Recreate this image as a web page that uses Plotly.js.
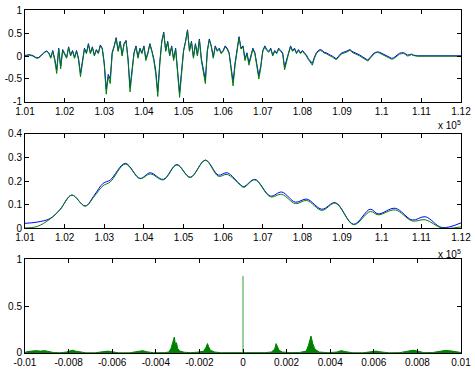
<!DOCTYPE html>
<html>
<head>
<meta charset="utf-8">
<script src="https://cdn.plot.ly/plotly-3.0.1.min.js"></script>
<style>html,body{margin:0;padding:0;background:#fff;}#chart{width:475px;height:371px;}</style>
</head>
<body>
<div id="chart"></div>
<script>
// ---- Top panel: time signal (x in units of 10^5), sampled every 0.0005 from 1.01 ----
const sigStart = 1.01;
const sigStep = 0.0005;
const sigGreen = [0,0.01,0.02,0.01,0,-0.03,-0.05,-0.04,0,0.05,0.08,0.1,0.06,-0.05,0.1,-0.1,-0.38,0.15,-0.28,0.12,
0.05,-0.05,0.18,0,0.1,-0.05,0.1,-0.08,-0.45,-0.1,0.15,0.05,0.25,0.05,0.18,0,0.12,0.05,0.22,0.15,
-0.2,-0.83,-0.45,-0.6,0.05,0.2,0.38,0.1,0.3,0,0.25,0.32,-0.1,-0.78,-0.4,0.05,0.2,-0.05,0.15,0.05,
0.2,-0.1,0.05,0.25,0.1,-0.1,-0.4,-0.88,-0.2,0.3,0.5,0.1,0.3,0,0.2,-0.1,0.15,-0.3,-0.9,-0.4,
0.1,0.3,0.55,0.1,0.3,-0.05,0.25,0,0.35,-0.1,-0.35,-0.6,0.1,0.35,0.2,-0.05,0.2,0.1,0.15,0.05,
0.1,0.2,0.15,0.05,-0.3,-0.65,-0.2,0.1,0.4,0.15,0.2,-0.1,0.05,-0.2,0,0.15,0.05,-0.2,-0.5,-0.25,
0.1,0.2,0.12,0.08,0.15,0,0.1,0.05,0.15,0.1,0.05,-0.3,-0.1,0.05,0.2,0.1,0.15,0.05,0.12,0.05,
0.1,0.05,0,-0.08,-0.15,-0.2,-0.05,0.05,0.1,0.12,0.1,0.06,0.05,0.02,0,-0.02,-0.06,-0.08,-0.04,0.02,
0.05,0.06,0.08,0.1,0.13,0.08,0.06,0.04,0.03,0,-0.03,-0.06,-0.09,-0.11,-0.06,0,0.04,0.07,0.08,0.06,
0.04,0.02,0,-0.03,-0.05,-0.07,-0.06,-0.02,0.02,0.04,0.05,0.06,0.03,0,0.01,0.03,0.01,0,-0.005];
const sigBlue = [0.01,0.02,0.03,0.02,0.01,-0.02,-0.04,-0.03,0.01,0.06,0.09,0.11,0.07,-0.03,0.12,-0.06,-0.3,0.17,-0.22,0.14,
0.07,-0.03,0.2,0.02,0.12,-0.03,0.12,-0.05,-0.38,-0.06,0.17,0.07,0.27,0.07,0.2,0.02,0.14,0.07,0.24,0.17,
-0.15,-0.72,-0.4,-0.5,0.08,0.22,0.4,0.12,0.32,0.03,0.27,0.34,-0.06,-0.68,-0.34,0.07,0.22,-0.02,0.17,0.07,
0.22,-0.06,0.07,0.27,0.12,-0.06,-0.33,-0.78,-0.14,0.32,0.52,0.12,0.32,0.02,0.22,-0.06,0.17,-0.24,-0.8,-0.33,
0.12,0.32,0.57,0.12,0.32,-0.02,0.27,0.02,0.37,-0.06,-0.3,-0.52,0.12,0.37,0.22,-0.02,0.22,0.12,0.17,0.07,
0.12,0.22,0.17,0.07,-0.25,-0.56,-0.15,0.12,0.42,0.17,0.22,-0.06,0.07,-0.15,0.02,0.17,0.07,-0.15,-0.43,-0.2,
0.12,0.22,0.14,0.1,0.17,0.02,0.12,0.07,0.17,0.12,0.07,-0.24,-0.06,0.07,0.22,0.12,0.17,0.07,0.14,0.07,
0.12,0.07,0.02,-0.06,-0.12,-0.16,-0.03,0.07,0.12,0.14,0.12,0.08,0.07,0.04,0.02,0,-0.04,-0.06,-0.02,0.04,
0.07,0.08,0.1,0.12,0.14,0.1,0.08,0.06,0.05,0.02,-0.01,-0.04,-0.07,-0.09,-0.04,0.02,0.06,0.08,0.09,0.08,
0.06,0.04,0.02,-0.01,-0.03,-0.05,-0.04,0,0.04,0.06,0.07,0.07,0.05,0.02,0.03,0.04,0.02,0.01,0.005];
const sigEndX = 1.12;

// ---- Middle panel: smooth envelope ----
const envX = [1.010,1.013,1.0163,1.0188,1.0218,1.0252,1.0275,1.0297,1.0315,1.0353,1.039,1.0416,1.0449,1.0483,1.0517,1.0555,1.0588,1.061,1.0643,1.0652,1.068,1.0719,1.0748,1.0782,1.0811,1.0849,1.0883,1.0929,1.0971,1.0991,1.1034,1.1077,1.111,1.1152,1.12];
const envBlue = [0.02,0.025,0.04,0.078,0.14,0.094,0.14,0.19,0.204,0.275,0.211,0.235,0.207,0.27,0.216,0.289,0.225,0.235,0.185,0.176,0.207,0.136,0.153,0.11,0.123,0.08,0.108,0.016,0.08,0.06,0.084,0.034,0.048,0.002,0.022];
const envGreen = [0.0,0.006,0.038,0.077,0.14,0.093,0.135,0.18,0.196,0.272,0.21,0.23,0.205,0.268,0.215,0.288,0.22,0.228,0.183,0.173,0.205,0.133,0.143,0.104,0.117,0.075,0.106,0.014,0.07,0.056,0.077,0.03,0.035,0.0,0.005];

// ---- Bottom panel: spectrum ----
const specX = [-0.01,-0.0099,-0.0097,-0.0095,-0.0093,-0.0091,-0.0089,-0.0087,-0.0084,-0.0081,-0.0079,-0.0078,-0.0077,-0.0075,-0.0072,-0.0068,-0.0064,-0.0062,-0.006,-0.0057,-0.0052,-0.0048,-0.0046,-0.0044,-0.0041,-0.0036,-0.0034,-0.0033,-0.00322,-0.00315,-0.0031,-0.00305,-0.003,-0.0029,-0.0027,-0.0024,-0.0021,-0.0018,-0.0017,-0.00163,-0.00158,-0.0015,-0.0013,-0.001,-0.0006,-0.0002,0,
0.0002,0.0006,0.001,0.0013,0.00145,0.00152,0.00158,0.00165,0.0018,0.0022,0.0026,0.0029,0.003,0.00308,0.00312,0.0032,0.0033,0.0035,0.0039,0.0043,0.0045,0.0047,0.005,0.0055,0.0059,0.0061,0.0063,0.0067,0.0072,0.0076,0.0078,0.008,0.0083,0.0087,0.009,0.0093,0.0096,0.0099,0.01];
const specY = [0.005,0.015,0.02,0.025,0.02,0.025,0.015,0.005,0.002,0.01,0.025,0.03,0.02,0.01,0.002,0.002,0.01,0.02,0.012,0.002,0.002,0.015,0.025,0.012,0.003,0.004,0.01,0.05,0.12,0.17,0.09,0.11,0.05,0.02,0.008,0.004,0.008,0.02,0.06,0.1,0.07,0.03,0.01,0.003,0.004,0.003,0,
0.003,0.004,0.004,0.01,0.04,0.1,0.06,0.03,0.01,0.004,0.006,0.02,0.08,0.15,0.18,0.1,0.04,0.01,0.003,0.01,0.025,0.015,0.003,0.002,0.01,0.02,0.012,0.002,0.004,0.02,0.03,0.02,0.004,0.005,0.02,0.028,0.02,0.01,0.005];
const dcX = [0, 0];
const dcY = [0, 0.82];

// tick labels
const timeTicks = [1.01,1.02,1.03,1.04,1.05,1.06,1.07,1.08,1.09,1.1,1.11,1.12];
const timeTickText = ['1.01','1.02','1.03','1.04','1.05','1.06','1.07','1.08','1.09','1.1','1.11','1.12'];
const freqTicks = [-0.01,-0.008,-0.006,-0.004,-0.002,0,0.002,0.004,0.006,0.008,0.01];
const freqTickText = ['-0.01','-0.008','-0.006','-0.004','-0.002','0','0.002','0.004','0.006','0.008','0.01'];

// build sample axis
const sigX = sigGreen.map((_, i) => +(sigStart + i * sigStep).toFixed(5));
const topX = sigX.concat([sigEndX]);
const topG = sigGreen.concat([sigGreen[sigGreen.length - 1]]);
const topB = sigBlue.concat([sigBlue[sigBlue.length - 1]]);

const BLUE = '#0000ff', GREEN = '#008000';

const traces = [
  {x: topX, y: topB, type: 'scatter', mode: 'lines', line: {color: BLUE, width: 1}, xaxis: 'x', yaxis: 'y'},
  {x: topX, y: topG, type: 'scatter', mode: 'lines', line: {color: GREEN, width: 1}, xaxis: 'x', yaxis: 'y'},
  {x: envX, y: envBlue, type: 'scatter', mode: 'lines', line: {color: BLUE, width: 1, shape: 'spline', smoothing: 1}, xaxis: 'x2', yaxis: 'y2'},
  {x: envX, y: envGreen, type: 'scatter', mode: 'lines', line: {color: GREEN, width: 1, shape: 'spline', smoothing: 1}, xaxis: 'x2', yaxis: 'y2'},
  {x: specX, y: specY, type: 'scatter', mode: 'lines', fill: 'tozeroy', fillcolor: GREEN, line: {color: GREEN, width: 1}, xaxis: 'x3', yaxis: 'y3'},
  {x: dcX, y: dcY, type: 'scatter', mode: 'lines', line: {color: '#33a033', width: 1}, xaxis: 'x3', yaxis: 'y3'}
];

const ax = {
  showline: true, linecolor: 'black', linewidth: 1, mirror: 'ticks',
  ticks: 'inside', ticklen: 4, tickcolor: 'black', tickwidth: 1,
  showgrid: false, zeroline: false, fixedrange: true,
  tickfont: {family: 'Liberation Sans, Arial, sans-serif', size: 10, color: 'black'}
};

const layout = {
  width: 475, height: 371,
  margin: {l: 25, r: 14, t: 10, b: 18},
  paper_bgcolor: 'white', plot_bgcolor: 'white',
  showlegend: false,
  font: {family: 'Liberation Sans, Arial, sans-serif', size: 10, color: 'black'},
  xaxis: Object.assign({}, ax, {anchor: 'y', domain: [0, 1], range: [1.01, 1.12], tickmode: 'array', tickvals: timeTicks, ticktext: timeTickText}),
  yaxis: Object.assign({}, ax, {anchor: 'x', domain: [0.7318, 1], range: [-1, 1], tickmode: 'array', tickvals: [-1, -0.5, 0, 0.5, 1], ticktext: ['-1', '-0.5', '0', '0.5', '1']}),
  xaxis2: Object.assign({}, ax, {anchor: 'y2', domain: [0, 1], range: [1.01, 1.12], tickmode: 'array', tickvals: timeTicks, ticktext: timeTickText}),
  yaxis2: Object.assign({}, ax, {anchor: 'x2', domain: [0.3644, 0.6385], range: [0, 0.4], tickmode: 'array', tickvals: [0, 0.1, 0.2, 0.3, 0.4], ticktext: ['0', '0.1', '0.2', '0.3', '0.4']}),
  xaxis3: Object.assign({}, ax, {anchor: 'y3', domain: [0, 1], range: [-0.01, 0.01], tickmode: 'array', tickvals: freqTicks, ticktext: freqTickText}),
  yaxis3: Object.assign({}, ax, {anchor: 'x3', domain: [0, 0.274], range: [0, 1], tickmode: 'array', tickvals: [0, 0.5, 1], ticktext: ['0', '0.5', '1']}),
  annotations: [
    {text: 'x 10<sup>5</sup>', xref: 'paper', yref: 'paper', x: 1.005, y: 0.665, xanchor: 'right', yanchor: 'middle', showarrow: false, font: {size: 10}},
    {text: 'x 10<sup>5</sup>', xref: 'paper', yref: 'paper', x: 1.005, y: 0.289, xanchor: 'right', yanchor: 'middle', showarrow: false, font: {size: 10}}
  ]
};

Plotly.newPlot('chart', traces, layout, {displayModeBar: false, staticPlot: true});
</script>
</body>
</html>
